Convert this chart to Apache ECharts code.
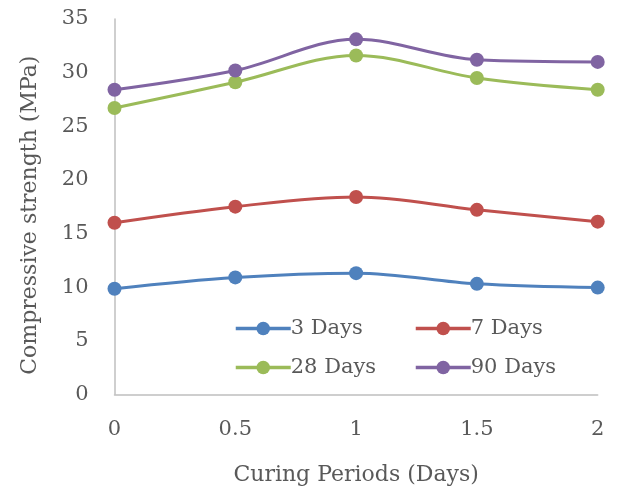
<!DOCTYPE html>
<html>
<head>
<meta charset="utf-8">
<script src="https://cdn.jsdelivr.net/npm/echarts@6/dist/echarts.min.js"></script>
<style>
  html, body { margin: 0; padding: 0; background: #fff; }
  #chart { width: 618px; height: 492px; }
</style>
</head>
<body>
<div id="chart"></div>
<script>
// Curing period (days) on the x axis
const curingPeriods = [0, 0.5, 1, 1.5, 2];
const xTicks = [0, 0.5, 1, 1.5, 2];
const yTicks = [0, 5, 10, 15, 20, 25, 30, 35];

// Compressive strength (MPa) by test age
const seriesNames = ['3 Days', '7 Days', '28 Days', '90 Days'];
const days3 = [9.85, 10.9, 11.3, 10.3, 9.95];
const days7 = [16.0, 17.5, 18.4, 17.2, 16.1];
const days28 = [26.7, 29.1, 31.6, 29.5, 28.4];
const days90 = [28.4, 30.2, 33.1, 31.2, 31.0];
const colors = ['#4f81bd', '#c0504d', '#9bbb59', '#8064a2'];

const font = 'DejaVu Serif';
const textColor = '#595959';

const values = [days3, days7, days28, days90];
const series = seriesNames.map((name, i) => ({
  name,
  type: 'line',
  smooth: 0.35,
  data: curingPeriods.map((x, j) => [x, values[i][j]]),
  symbol: 'circle',
  symbolSize: 14,
  lineStyle: { width: 3, color: colors[i] },
  itemStyle: { color: colors[i] },
  z: 2 + i
}));

const legendCommon = {
  orient: 'vertical',
  itemWidth: 55,
  itemHeight: 17,
  itemGap: 18,
  textStyle: { fontFamily: font, fontSize: 21, color: textColor, padding: [0, 0, 0, -5] },
  itemStyle: { borderWidth: 0 },
  lineStyle: { width: 3.5 }
};

const chart = echarts.init(document.getElementById('chart'));
chart.setOption({
  animation: false,
  backgroundColor: '#fff',
  color: colors,
  grid: { left: 114.5, right: 20.3, top: 19, bottom: 97.7, containLabel: false },
  legend: [
    Object.assign({}, legendCommon, { data: ['3 Days', '28 Days'], left: 229, top: 313 }),
    Object.assign({}, legendCommon, { data: ['7 Days', '90 Days'], left: 409, top: 313 })
  ],
  xAxis: {
    type: 'value',
    min: xTicks[0],
    max: xTicks[xTicks.length - 1],
    interval: xTicks[1] - xTicks[0],
    name: 'Curing Periods (Days)',
    nameLocation: 'middle',
    nameGap: 70,
    nameTextStyle: { fontFamily: font, fontSize: 22, color: textColor },
    axisLine: { show: true, lineStyle: { color: '#bfbfbf', width: 1.5 } },
    axisTick: { show: false },
    splitLine: { show: false },
    axisLabel: { fontFamily: font, fontSize: 21, color: textColor, margin: 25 }
  },
  yAxis: {
    type: 'value',
    min: yTicks[0],
    max: yTicks[yTicks.length - 1],
    interval: yTicks[1] - yTicks[0],
    name: 'Compressive strength (MPa)',
    nameLocation: 'middle',
    nameGap: 73,
    nameTextStyle: { fontFamily: font, fontSize: 22, color: textColor, padding: [0, 17, 0, 0] },
    axisLine: { show: true, lineStyle: { color: '#bfbfbf', width: 1.5 } },
    axisTick: { show: false },
    splitLine: { show: false },
    axisLabel: { fontFamily: font, fontSize: 21, color: textColor, margin: 26 }
  },
  series
});
</script>
</body>
</html>
